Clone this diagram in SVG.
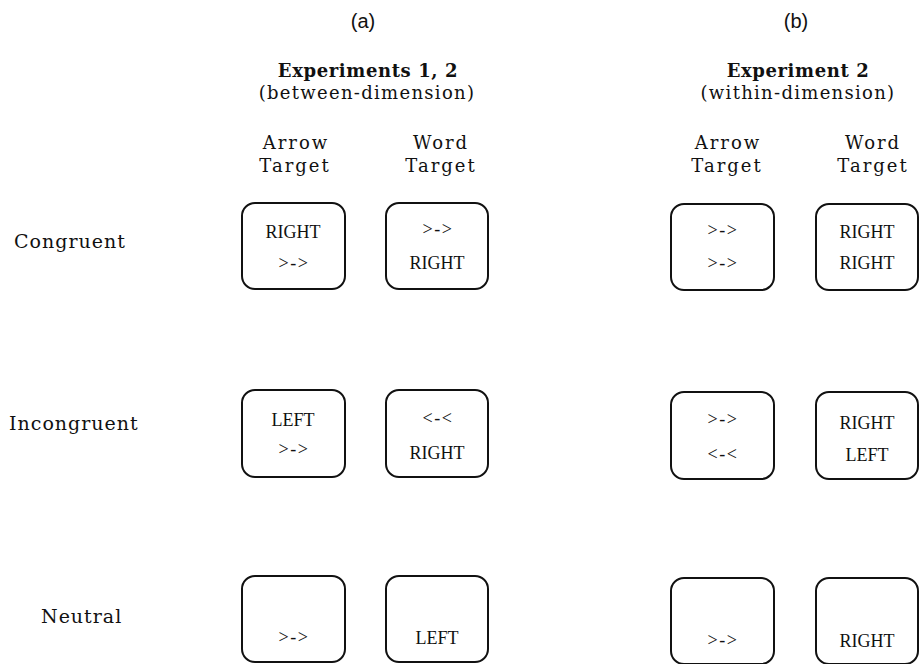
<svg xmlns="http://www.w3.org/2000/svg" width="919" height="664" viewBox="0 0 919 664">
<style>
.box{fill:#fff;stroke:#111;stroke-width:2}
.panel{font-family:"Liberation Sans",Arial,sans-serif;font-size:20px;fill:#111;text-anchor:middle}
.title{font-family:"DejaVu Serif","Liberation Serif",serif;font-size:18px;font-weight:bold;fill:#111;text-anchor:middle;letter-spacing:0.6px}
.sub{font-family:"DejaVu Serif","Liberation Serif",serif;font-size:18px;fill:#111;text-anchor:middle;letter-spacing:1.3px}
.col{font-family:"DejaVu Serif","Liberation Serif",serif;font-size:18px;fill:#111;text-anchor:middle;letter-spacing:2px}
.row{font-family:"DejaVu Serif","Liberation Serif",serif;font-size:19px;fill:#111;letter-spacing:1px}
.t{font-family:"Liberation Serif","Times New Roman",serif;font-size:18px;fill:#111;text-anchor:middle}
.a{letter-spacing:1.5px}
</style>
<g id="headers">
<text class="panel" x="363" y="28">(a)</text>
<text class="panel" x="796" y="28">(b)</text>
<text class="title" x="368" y="77">Experiments 1, 2</text>
<text class="sub" x="367" y="99">(between-dimension)</text>
<text class="title" x="798" y="77">Experiment 2</text>
<text class="sub" x="798" y="99">(within-dimension)</text>
<text class="col" x="296" y="149">Arrow</text>
<text class="col" x="441" y="149">Word</text>
<text class="col" x="295" y="172">Target</text>
<text class="col" x="441" y="172">Target</text>
<text class="col" x="728" y="149">Arrow</text>
<text class="col" x="873" y="149">Word</text>
<text class="col" x="727" y="172">Target</text>
<text class="col" x="873" y="172">Target</text>
</g>
<g id="row-labels">
<text class="row" x="14" y="248">Congruent</text>
<text class="row" x="9" y="430">Incongruent</text>
<text class="row" x="41" y="623">Neutral</text>
</g>
<g id="a-congruent-arrow"><rect class="box" x="242" y="203" width="103" height="86" rx="13"/><text class="t" x="293" y="238">RIGHT</text><text class="t a" x="294" y="269">&gt;-&gt;</text></g>
<g id="a-congruent-word"><rect class="box" x="386" y="203" width="102" height="86" rx="13"/><text class="t a" x="438" y="235">&gt;-&gt;</text><text class="t" x="437" y="269">RIGHT</text></g>
<g id="b-congruent-arrow"><rect class="box" x="671" y="204" width="103" height="86" rx="13"/><text class="t a" x="723" y="236">&gt;-&gt;</text><text class="t a" x="723" y="269">&gt;-&gt;</text></g>
<g id="b-congruent-word"><rect class="box" x="816" y="204" width="102" height="86" rx="13"/><text class="t" x="867" y="238">RIGHT</text><text class="t" x="867" y="269">RIGHT</text></g>
<g id="a-incongruent-arrow"><rect class="box" x="242" y="390" width="103" height="87" rx="13"/><text class="t" x="293" y="426">LEFT</text><text class="t a" x="294" y="455">&gt;-&gt;</text></g>
<g id="a-incongruent-word"><rect class="box" x="386" y="390" width="102" height="87" rx="13"/><text class="t a" x="438" y="424">&lt;-&lt;</text><text class="t" x="437" y="459">RIGHT</text></g>
<g id="b-incongruent-arrow"><rect class="box" x="671" y="392" width="103" height="87" rx="13"/><text class="t a" x="723" y="425">&gt;-&gt;</text><text class="t a" x="723" y="460">&lt;-&lt;</text></g>
<g id="b-incongruent-word"><rect class="box" x="816" y="392" width="102" height="87" rx="13"/><text class="t" x="867" y="429">RIGHT</text><text class="t" x="867" y="461">LEFT</text></g>
<g id="a-neutral-arrow"><rect class="box" x="242" y="576" width="103" height="86" rx="13"/><text class="t a" x="294" y="643">&gt;-&gt;</text></g>
<g id="a-neutral-word"><rect class="box" x="386" y="576" width="102" height="86" rx="13"/><text class="t" x="437" y="644">LEFT</text></g>
<g id="b-neutral-arrow"><rect class="box" x="671" y="578" width="103" height="86" rx="13"/><text class="t a" x="723" y="646">&gt;-&gt;</text></g>
<g id="b-neutral-word"><rect class="box" x="816" y="578" width="102" height="86" rx="13"/><text class="t" x="867" y="647">RIGHT</text></g>
</svg>
